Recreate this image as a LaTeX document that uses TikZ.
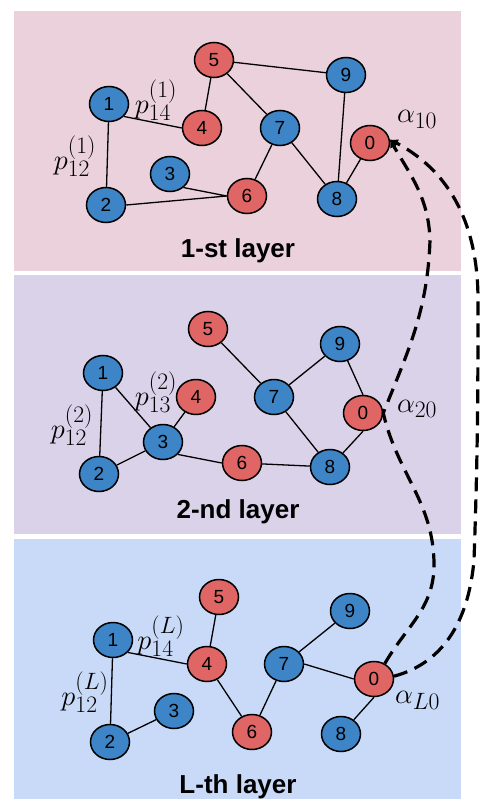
\documentclass[tikz,border=0pt]{standalone}
\usepackage{fontspec}
\setmainfont{Liberation Sans}
\usetikzlibrary{shapes.geometric,arrows.meta}
\definecolor{pinkbg}{HTML}{EAD1DC}
\definecolor{purplebg}{HTML}{D9D2E9}
\definecolor{bluebg}{HTML}{C9DAF8}
\definecolor{nodeblue}{HTML}{3D85C6}
\definecolor{nodered}{HTML}{E06666}
\newcommand{\lblmath}[1]{\scalebox{1.14}{\Huge$#1$}}
\begin{document}
\begin{tikzpicture}[x=1pt,y=1pt,
  vtx/.style={ellipse,draw=black,line width=1.5pt,minimum width=39pt,minimum height=35pt,inner sep=0pt,font=\fontsize{19}{19}\selectfont},
  bv/.style={vtx,fill=nodeblue},
  rv/.style={vtx,fill=nodered},
  edge/.style={line width=1.3pt},
  plab/.style={inner sep=0pt},
  alab/.style={inner sep=0pt,anchor=base west},
  ttl/.style={font=\fontsize{26}{30}\selectfont\bfseries,anchor=base,inner sep=0pt},
  dcurve/.style={line width=3.2pt,dash pattern=on 14pt off 8pt,-{Latex[length=8pt,width=9pt]}}
]
\useasboundingbox (0,0) rectangle (487,-805);
\fill[pinkbg] (14,-11) rectangle (461,-271);
\fill[purplebg] (14,-275) rectangle (461,-534);
\fill[bluebg] (14,-539) rectangle (461,-799);

% ---- layer 1
\node[bv] (a1) at (109,-104) {1};
\node[bv] (a2) at (106,-205) {2};
\node[bv] (a3) at (170,-174) {3};
\node[rv] (a4) at (202,-128) {4};
\node[rv] (a5) at (214,-60) {5};
\node[rv] (a6) at (247,-196) {6};
\node[bv] (a7) at (280,-128) {7};
\node[bv] (a8) at (337,-199) {8};
\node[bv] (a9) at (346,-75) {9};
\node[rv] (a0) at (370,-143) {0};
\draw[edge] (a1)--(a2) (a1.-40)--(a4.west) (a5)--(a4) (a5)--(a9) (a5)--(a7) (a3.-45)--(a6.west) (a2.east)--(a6.west) (a7)--(a6) (a7)--(a8) (a9)--(a8) (a8)--(a0);
\node[plab] (pa14) at (156,-100) {\lblmath{p_{14}^{(1)}}};
\node[plab] (pa12) at (75,-156) {\lblmath{p_{12}^{(1)}}};
\node[alab] (al1) at (397,-123) {\lblmath{\alpha_{10}}};
\node[ttl] (t1) at (238,-257) {1-st layer};

% ---- layer 2
\node[bv] (b1) at (103,-373) {1};
\node[bv] (b2) at (99,-474) {2};
\node[bv] (b3) at (163,-442) {3};
\node[rv] (b4) at (196,-397) {4};
\node[rv] (b5) at (208,-329) {5};
\node[rv] (b6) at (242,-463) {6};
\node[bv] (b7) at (274,-397) {7};
\node[bv] (b8) at (330,-467) {8};
\node[bv] (b9) at (340,-344) {9};
\node[rv] (b0) at (363,-413) {0};
\draw[edge] (b1)--(b2) (b1)--(b3) (b2)--(b3) (b3)--(b4) (b3.-40)--(b6.west) (b6)--(b8) (b5)--(b7) (b7)--(b9) (b7)--(b8) (b9)--(b0.north) (b0.south)--(b8);
\node[plab] (pb13) at (156,-392) {\lblmath{p_{13}^{(2)}}};
\node[plab] (pb12) at (72,-425) {\lblmath{p_{12}^{(2)}}};
\node[alab] (al2) at (397,-412) {\lblmath{\alpha_{20}}};
\node[ttl] (t2) at (238,-518) {2-nd layer};

% ---- layer L
\node[bv] (c1) at (113,-640) {1};
\node[bv] (c2) at (110,-742) {2};
\node[bv] (c3) at (174,-711) {3};
\node[rv] (c4) at (207,-664) {4};
\node[rv] (c5) at (219,-597) {5};
\node[rv] (c6) at (252,-732) {6};
\node[bv] (c7) at (284,-664) {7};
\node[bv] (c8) at (341,-734) {8};
\node[bv] (c9) at (350,-611) {9};
\node[rv] (c0) at (374,-679) {0};
\draw[edge] (c1)--(c2) (c1.-40)--(c4.west) (c2)--(c3) (c5)--(c4) (c4)--(c6) (c6)--(c7) (c7)--(c9) (c7.east)--(c0.west) (c0.south)--(c8);
\node[plab] (pc14) at (161,-636) {\lblmath{p_{14}^{(L)}}};
\node[plab] (pc12) at (85,-692) {\lblmath{p_{12}^{(L)}}};
\node[alab] (al3) at (395,-703) {\lblmath{\alpha_{L0}}};
\node[ttl] (t3) at (238,-793) {L-th layer};

% ---- dashed connectors
\coordinate (w1) at (434,-565);
\coordinate (w2) at (430,-240);
\coordinate (v1) at (474,-560);
\coordinate (v2) at (478,-300);
\draw[dcurve] (c0.55) to[out=60,in=-90] (w1) to[out=90,in=-77] (b0.east) to[out=68,in=-92] (w2) to[out=92,in=-60] (a0.10);
\draw[dcurve] (c0.8) to[out=15,in=-95] (v1) to[out=88,in=-90] (v2) to[out=90,in=-28] (a0.10);
\end{tikzpicture}
\end{document}
